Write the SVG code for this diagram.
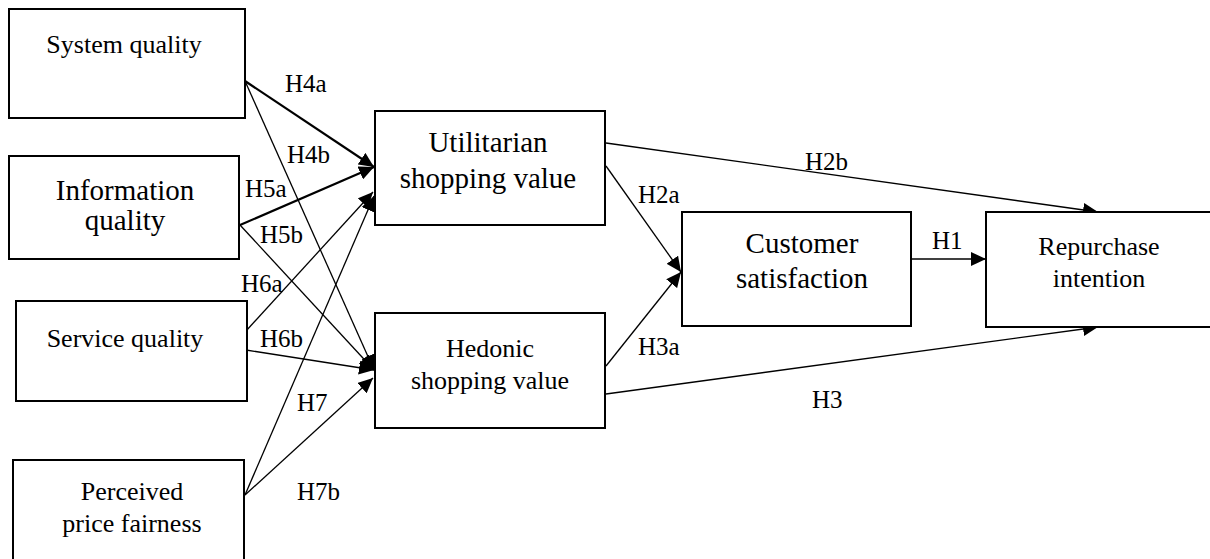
<svg xmlns="http://www.w3.org/2000/svg" width="1210" height="559" viewBox="0 0 1210 559">
<style>
.box{fill:#fff;stroke:#000;stroke-width:2}
.t{fill:#000;text-anchor:middle}
.lbl{fill:#000;font-size:25px}
.c{stroke:#000;stroke-width:1.3;fill:none;marker-end:url(#ah)}
.thick{stroke-width:2.2}
</style>
<defs>
<marker id="ah" markerUnits="userSpaceOnUse" markerWidth="16" markerHeight="14" refX="15" refY="7" orient="auto">
<path d="M0,0 L15,7 L0,14 z" fill="#000"/>
</marker>
</defs>
<rect width="1210" height="559" fill="#fff"/>
<g id="connectors" font-family="'Liberation Serif', 'DejaVu Serif', 'Times New Roman', serif">
<line class="c thick" x1="245" y1="81" x2="374" y2="167"/>
<line class="c" x1="245" y1="81" x2="374" y2="370"/>
<line class="c thick" x1="240" y1="225" x2="374" y2="167"/>
<line class="c" x1="240" y1="225" x2="374" y2="370"/>
<line class="c" x1="246" y1="331" x2="373" y2="192"/>
<line class="c" x1="246" y1="350" x2="374" y2="370"/>
<line class="c" x1="245" y1="495" x2="374" y2="196"/>
<line class="c" x1="245" y1="495" x2="373" y2="378"/>
<line class="c" x1="606" y1="143" x2="1098" y2="212"/>
<line class="c" x1="606" y1="166" x2="681" y2="272"/>
<line class="c" x1="606" y1="366" x2="681" y2="272"/>
<line class="c" x1="606" y1="394" x2="1098" y2="327"/>
<line class="c" x1="911" y1="259" x2="986" y2="259"/>
<text class="lbl" x="285" y="92">H4a</text>
<text class="lbl" x="287" y="163">H4b</text>
<text class="lbl" x="245" y="197">H5a</text>
<text class="lbl" x="260" y="243">H5b</text>
<text class="lbl" x="241" y="292">H6a</text>
<text class="lbl" x="260" y="347">H6b</text>
<text class="lbl" x="297" y="411">H7</text>
<text class="lbl" x="297" y="500">H7b</text>
<text class="lbl" x="638" y="203">H2a</text>
<text class="lbl" x="638" y="355">H3a</text>
<text class="lbl" x="805" y="170">H2b</text>
<text class="lbl" x="932" y="249">H1</text>
<text class="lbl" x="812" y="408">H3</text>
</g>
<g id="nodes" font-family="'Liberation Serif', 'DejaVu Serif', 'Times New Roman', serif">
<g id="system-quality">
<rect class="box" x="9" y="9" width="236" height="109"/>
<text class="t" x="124" y="53" font-size="26">System quality</text>
</g>
<g id="information-quality">
<rect class="box" x="9" y="156" width="230" height="103"/>
<text class="t" x="125" y="200" font-size="29">Information</text>
<text class="t" x="125" y="230" font-size="29">quality</text>
</g>
<g id="service-quality">
<rect class="box" x="16" y="301" width="231" height="100"/>
<text class="t" x="125" y="347" font-size="26">Service quality</text>
</g>
<g id="perceived-price-fairness">
<rect class="box" x="13" y="460" width="231" height="110"/>
<text class="t" x="132" y="500" font-size="26">Perceived</text>
<text class="t" x="132" y="532" font-size="26">price fairness</text>
</g>
<g id="utilitarian">
<rect class="box" x="375" y="111" width="230" height="114"/>
<text class="t" x="488" y="152" font-size="29">Utilitarian</text>
<text class="t" x="488" y="188" font-size="29">shopping value</text>
</g>
<g id="hedonic">
<rect class="box" x="375" y="313" width="230" height="115"/>
<text class="t" x="490" y="357" font-size="26">Hedonic</text>
<text class="t" x="490" y="389" font-size="26">shopping value</text>
</g>
<g id="customer-satisfaction">
<rect class="box" x="682" y="212" width="229" height="114"/>
<text class="t" x="802" y="253" font-size="29">Customer</text>
<text class="t" x="802" y="288" font-size="29">satisfaction</text>
</g>
<g id="repurchase-intention">
<rect class="box" x="986" y="212" width="240" height="115"/>
<text class="t" x="1099" y="255" font-size="26">Repurchase</text>
<text class="t" x="1099" y="287" font-size="26">intention</text>
</g>
</g>
</svg>
